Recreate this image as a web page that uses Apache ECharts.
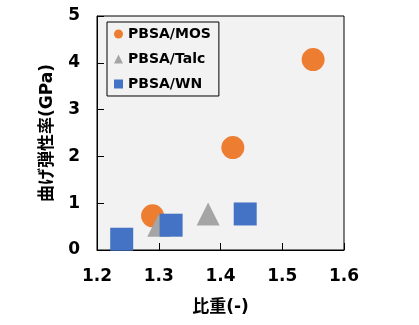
<!DOCTYPE html>
<html><head><meta charset="utf-8">
<script src="https://cdn.jsdelivr.net/npm/echarts@6/dist/echarts.min.js"></script>
<style>html,body{margin:0;padding:0;background:#fff}#c{width:419px;height:325px}</style>
</head><body><div id="c"></div>
<script>
const seriesNames = ['PBSA/MOS', 'PBSA/Talc', 'PBSA/WN'];
const mosX = [1.29, 1.42, 1.55];
const mosY = [0.73, 2.19, 4.07];
const talcX = [1.30, 1.38];
const talcY = [0.53, 0.77];
const wnX = [1.24, 1.32, 1.44];
const wnY = [0.23, 0.53, 0.77];
const xTicks = [1.2, 1.3, 1.4, 1.5, 1.6];
const yTicks = [0, 1, 2, 3, 4, 5];
const xName = '比重(-)';
const yName = '曲げ弾性率(GPa)';

const pair = (xs, ys) => xs.map((x, i) => [x, ys[i]]);
const FONT = '"DejaVu Sans", "Noto Sans CJK JP", sans-serif';
const chart = echarts.init(document.getElementById('c'), null, {renderer: 'canvas'});
chart.setOption({
  animation: false,
  grid: {left: 97, right: 75, top: 16, bottom: 75, show: true, backgroundColor: '#f2f2f2', borderColor: '#000', borderWidth: 1},
  legend: {
    orient: 'vertical', left: 107, top: 22,
    padding: [5, 8, 5, 7], itemGap: 11, itemWidth: 9, itemHeight: 9,
    borderColor: '#000', borderWidth: 1, backgroundColor: '#f2f2f2',
    textStyle: {fontFamily: FONT, fontWeight: 'bold', fontSize: 14, color: '#000'},
    data: [
      {name: seriesNames[0], icon: 'circle'},
      {name: seriesNames[1], icon: 'triangle'},
      {name: seriesNames[2], icon: 'rect'}
    ]
  },
  xAxis: {
    type: 'value', min: xTicks[0], max: xTicks[xTicks.length - 1], interval: 0.1,
    name: xName, nameLocation: 'middle', nameGap: 49,
    nameTextStyle: {fontFamily: FONT, fontWeight: 'bold', fontSize: 17, color: '#000'},
    axisLine: {show: true, onZero: false, lineStyle: {color: '#000', width: 1}},
    axisTick: {show: true, inside: true, length: 7, lineStyle: {color: '#000'}},
    axisLabel: {margin: 18, fontFamily: FONT, fontWeight: 'bold', fontSize: 17, color: '#000',
      formatter: v => v.toFixed(1)},
    splitLine: {show: false}
  },
  yAxis: {
    type: 'value', min: yTicks[0], max: yTicks[yTicks.length - 1], interval: 1,
    name: yName, nameLocation: 'middle', nameGap: 41,
    nameTextStyle: {fontFamily: FONT, fontWeight: 'bold', fontSize: 17, color: '#000'},
    axisLine: {show: true, onZero: false, lineStyle: {color: '#000', width: 1}},
    axisTick: {show: true, inside: true, length: 7, lineStyle: {color: '#000'}},
    axisLabel: {margin: 17, fontFamily: FONT, fontWeight: 'bold', fontSize: 17, color: '#000'},
    splitLine: {show: false}
  },
  series: [
    {name: seriesNames[0], type: 'scatter', symbol: 'circle', symbolSize: 23,
      itemStyle: {color: '#ED7D31', opacity: 1}, data: pair(mosX, mosY)},
    {name: seriesNames[1], type: 'scatter', symbol: 'triangle', symbolSize: 23,
      itemStyle: {color: '#A5A5A5', opacity: 1}, data: pair(talcX, talcY)},
    {name: seriesNames[2], type: 'scatter', symbol: 'rect', symbolSize: 23,
      itemStyle: {color: '#4472C4', opacity: 1}, data: pair(wnX, wnY)}
  ]
});
</script></body></html>
